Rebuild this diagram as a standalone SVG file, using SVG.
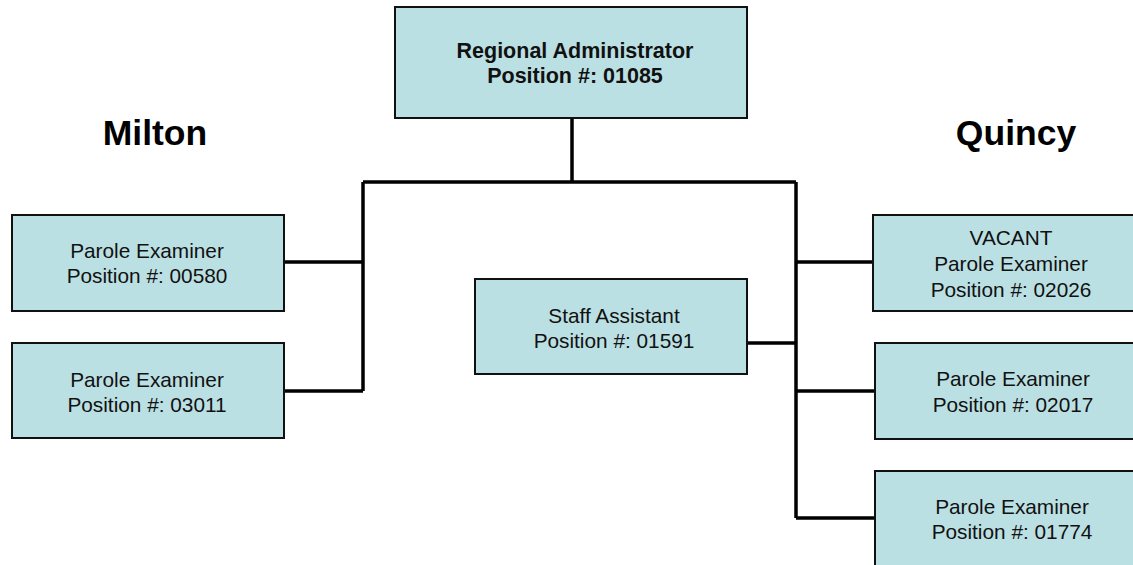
<svg xmlns="http://www.w3.org/2000/svg" width="1133" height="565" viewBox="0 0 1133 565">
<style>
.box{fill:#BBE0E3;stroke:#111;stroke-width:2}
.t{font-family:"Liberation Sans",Arial,sans-serif;font-size:20.8px;fill:#111;text-anchor:middle}
.b{font-weight:bold;font-size:21.5px}
.h{font-family:"Liberation Sans",Arial,sans-serif;font-size:35.5px;font-weight:bold;fill:#000;text-anchor:middle}
.c{stroke:#000;stroke-width:3.5;fill:none}
</style>
<rect width="1133" height="565" fill="#fff"/>
<g id="connectors">
<path class="c" d="M572 118V182M363 182H796M363 182V391M284 262H363M284 391H363M796 182V518M747 343H796M796 262H873M796 391H875M796 518H875"/>
</g>
<g id="label-milton"><text class="h" x="155" y="145">Milton</text></g>
<g id="label-quincy"><text class="h" x="1016" y="145">Quincy</text></g>
<g id="regional-admin">
<rect class="box" x="395" y="7" width="352" height="111"/>
<text class="t b" x="575" y="58">Regional Administrator</text>
<text class="t b" x="575" y="83">Position #: 01085</text>
</g>
<g id="pe-00580">
<rect class="box" x="12" y="215" width="272" height="96"/>
<text class="t" x="147" y="258">Parole Examiner</text>
<text class="t" x="147" y="283">Position #: 00580</text>
</g>
<g id="pe-03011">
<rect class="box" x="12" y="343" width="272" height="95"/>
<text class="t" x="147" y="387">Parole Examiner</text>
<text class="t" x="147" y="412">Position #: 03011</text>
</g>
<g id="staff-assistant">
<rect class="box" x="475" y="279" width="272" height="95"/>
<text class="t" x="614" y="323">Staff Assistant</text>
<text class="t" x="614" y="348">Position #: 01591</text>
</g>
<g id="pe-02026">
<rect class="box" x="873" y="215" width="278" height="96"/>
<text class="t" x="1011" y="245">VACANT</text>
<text class="t" x="1011" y="271">Parole Examiner</text>
<text class="t" x="1011" y="297">Position #: 02026</text>
</g>
<g id="pe-02017">
<rect class="box" x="875" y="343" width="276" height="96"/>
<text class="t" x="1013" y="386">Parole Examiner</text>
<text class="t" x="1013" y="412">Position #: 02017</text>
</g>
<g id="pe-01774">
<rect class="box" x="875" y="471" width="276" height="110"/>
<text class="t" x="1012" y="514">Parole Examiner</text>
<text class="t" x="1012" y="539">Position #: 01774</text>
</g>
</svg>
